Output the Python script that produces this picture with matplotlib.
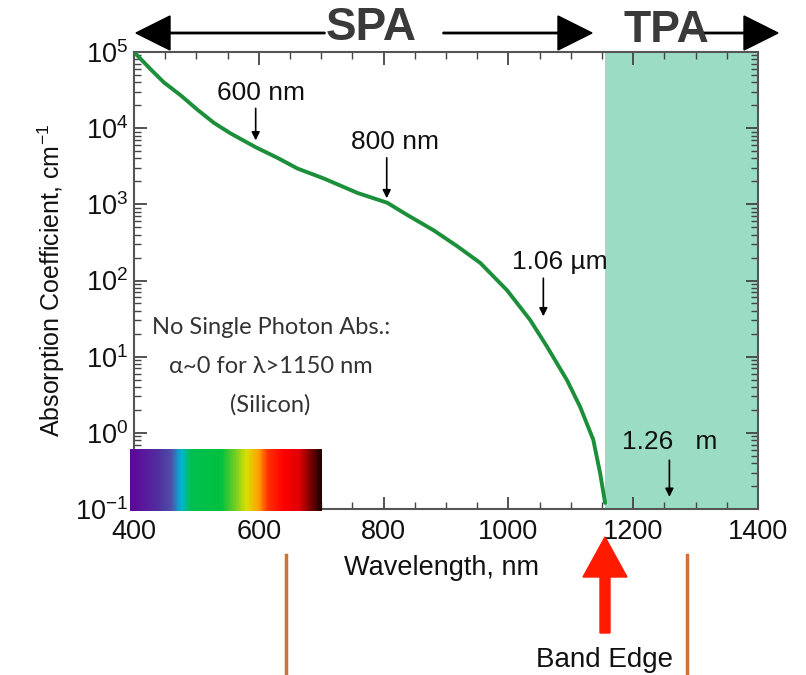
import numpy as np
import matplotlib
matplotlib.use("Agg")
import matplotlib.pyplot as plt
from matplotlib.colors import LinearSegmentedColormap
from matplotlib.patches import FancyArrow
from matplotlib.ticker import MultipleLocator, LogLocator, NullFormatter

plt.rcParams['font.family'] = ['Liberation Sans', 'DejaVu Sans']
plt.rcParams['mathtext.fontset'] = 'custom'
plt.rcParams['mathtext.rm'] = 'Liberation Sans'
plt.rcParams['mathtext.it'] = 'Liberation Sans'
plt.rcParams['mathtext.default'] = 'regular'

# ---- data ----
wavelength_nm = [400, 427, 448, 475, 502, 528, 555, 595, 630, 662, 704, 758, 806,
                 838, 880, 918, 955, 998, 1035, 1062, 1094, 1115, 1136, 1147, 1155]
log_alpha = [5.0, 4.77, 4.60, 4.43, 4.24, 4.07, 3.93, 3.75, 3.61, 3.47, 3.34, 3.15,
             3.02, 2.86, 2.66, 2.45, 2.23, 1.87, 1.48, 1.13, 0.69, 0.34, -0.09,
             -0.53, -0.92]
band_edge_nm = 1155
x_max_nm = 1400

spectrum_nm = [400, 440, 460, 475, 490, 540, 565, 580, 600, 615, 640, 665, 685, 700]
spectrum_colors = ['#5e0a99', '#5030a0', '#5050a8', '#00b4d8', '#00c050', '#00c040',
                   '#80d020', '#d8e000', '#ffa000', '#ff3000', '#ff0000', '#e00000',
                   '#700000', '#200000']

marker_labels = ['600 nm', '800 nm', '1.06 \u00b5m', '1.26   m']
marker_nm = [595, 805, 1056, 1258]
marker_tail = [4.26, 3.61, 2.03, -0.36]
marker_tip = [3.84, 3.08, 1.53, -0.84]
marker_text_x = [603, 819, 1083, 1259]
marker_text_y = [4.46, 3.82, 2.24, -0.12]

# ---- figure ----
fig = plt.figure(figsize=(8.06, 6.75), dpi=100)
W, H = 806, 675
ax = fig.add_axes([134 / W, 1 - 509 / H, 624 / W, 457 / H])

alpha = 10 ** np.array(log_alpha)
ax.axvspan(band_edge_nm, x_max_nm, color='#9bdcc5', lw=0, zorder=0)
ax.plot(wavelength_nm, alpha, color='#1b8f3a', lw=2.8, zorder=3,
        solid_capstyle='round', solid_joinstyle='round')

# spectrum bar
nodes = [(w - spectrum_nm[0]) / (spectrum_nm[-1] - spectrum_nm[0]) for w in spectrum_nm]
cmap = LinearSegmentedColormap.from_list('spec', list(zip(nodes, spectrum_colors)))
xe = np.linspace(394, 702, 309)
xc = np.clip(0.5 * (xe[:-1] + xe[1:]), 400, 700)
ax.pcolormesh(xe, [0.093, 0.62], xc[None, :], cmap=cmap, vmin=400, vmax=700,
              shading='flat', zorder=5, clip_on=False)

ax.set_yscale('log')
ax.set_xlim(400, x_max_nm)
ax.set_ylim(1e-1, 1e5)

ax.xaxis.set_major_locator(MultipleLocator(200))
ax.xaxis.set_minor_locator(MultipleLocator(50))
ax.yaxis.set_major_locator(LogLocator(base=10, numticks=10))
ax.yaxis.set_minor_locator(LogLocator(base=10, subs=np.arange(2, 10), numticks=20))
ax.yaxis.set_minor_formatter(NullFormatter())
ax.tick_params(which='both', direction='in', top=True, right=True, color='#444444')
ax.tick_params(which='major', length=9, width=1.3, labelsize=19.5, pad=7,
               labelcolor='#111111')
ax.tick_params(axis='y', which='major', pad=4)
ax.tick_params(which='minor', length=5, width=1.0)
for s in ax.spines.values():
    s.set_color('#555555')
    s.set_linewidth(1.5)

ax.set_ylabel('Absorption Coefficient, cm$^{-1}$', fontsize=18, labelpad=6,
              color='#111111')

for lab, x, yt, yh, tx, ty in zip(marker_labels, marker_nm, marker_tail, marker_tip,
                                  marker_text_x, marker_text_y):
    ax.annotate('', xy=(x, 10 ** yh), xytext=(x, 10 ** yt),
                arrowprops=dict(arrowstyle='-|>', color='black', lw=1.2,
                                mutation_scale=12, shrinkA=0, shrinkB=0))
    ax.text(tx, 10 ** ty, lab, ha='center', va='center', fontsize=19, color='#111111')

for i, line in enumerate(['No Single Photon Abs.:', '\u03b1~0 for \u03bb>1150 nm',
                          '(Silicon)']):
    ax.text(0.219, (509 - (327 + 39 * i)) / 457, line, transform=ax.transAxes,
            ha='center', va='center', fontsize=17, color='#333333',
            family=['Lato', 'DejaVu Sans'])

# top SPA / TPA
def fx(px):
    return px / W

def fy(py):
    return 1 - py / H

fig.text(fx(371), fy(28), 'SPA', ha='center', va='center', fontsize=33,
         fontweight='bold', color='#3a3a3a')
fig.text(fx(666), fy(31), 'TPA', ha='center', va='center', fontsize=32,
         fontweight='bold', color='#3a3a3a')

def harrow(x0, x1, y):
    fig.add_artist(FancyArrow(fx(x0), fy(y), fx(x1) - fx(x0), 0,
                              width=1.4 / H, head_width=34 / H, head_length=34 / W,
                              length_includes_head=True, color='black',
                              transform=fig.transFigure))

harrow(325, 136, 33)
harrow(443, 592, 33)
harrow(690, 778, 33)

fig.text(fx(442), fy(568), 'Wavelength, nm', ha='center', va='center', fontsize=19.5,
         color='#111111')
fig.text(fx(604), fy(660), 'Band Edge', ha='center', va='center', fontsize=20,
         color='#111111')

# red band edge arrow
fig.add_artist(FancyArrow(fx(605), fy(633), 0, fy(537) - fy(633),
                          width=10 / W, head_width=44 / W,
                          head_length=40 / H, length_includes_head=True,
                          color='#ff1a00', transform=fig.transFigure))

# orange guide lines
for px in (286, 687):
    fig.add_artist(plt.Line2D([fx(px), fx(px)], [fy(555), fy(675)], color='#d2703a',
                              lw=2.5, transform=fig.transFigure))

fig.savefig('out.png', dpi=100)
